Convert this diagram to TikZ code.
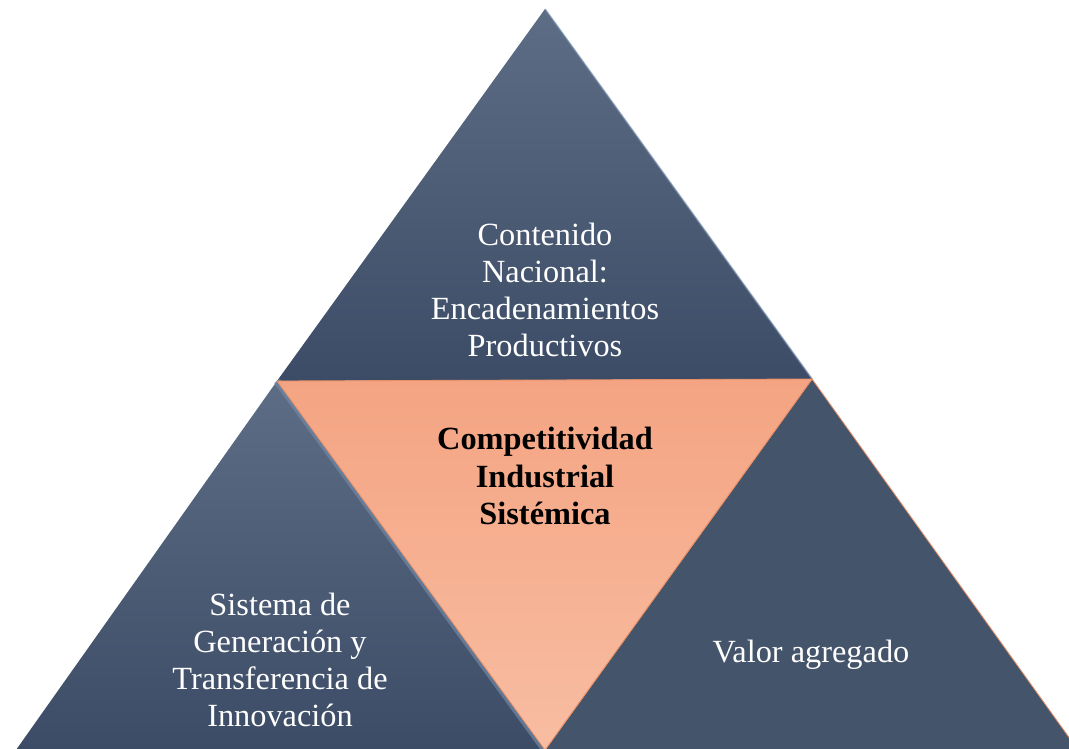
\documentclass[tikz,border=0pt]{standalone}
\usepackage{fontspec}
\setmainfont{Liberation Serif}
\usetikzlibrary{positioning}

\definecolor{navytop}{HTML}{5C6D85}
\definecolor{navybot}{HTML}{3D4C66}
\definecolor{navymid}{HTML}{44546A}
\definecolor{navyglow}{HTML}{7088A6}
\definecolor{salmontop}{HTML}{F4A482}
\definecolor{salmonbot}{HTML}{F8BDA2}
\definecolor{salmonedge}{HTML}{E58F66}

\begin{document}
\begin{tikzpicture}[x=0.025cm, y=-0.025cm,
    lbl/.style={align=center, text=white, font=\fontsize{23}{26.5}\selectfont},
    core/.style={align=center, text=black, font=\fontsize{23}{26.5}\selectfont\bfseries}]
  \useasboundingbox (0,0) rectangle (1069,748);
  % corners of the pyramid
  \coordinate (apex) at (545,9);
  \coordinate (jl) at (277,381);
  \coordinate (jr) at (812,379);
  \coordinate (bl) at (16,750);
  \coordinate (bm) at (545,750);
  \coordinate (br) at (1078,750);
  % three blue triangles
  \shade[top color=navytop, bottom color=navybot] (apex) -- (jr) -- (jl) -- cycle;
  \draw[navyglow, line width=1.2pt, opacity=0.6] (apex) -- (jr);
  \shade[top color=navytop, bottom color=navybot] (jl) -- (bm) -- (bl) -- cycle;
  \draw[navyglow, line width=5pt, opacity=0.7] (jl) -- (bm);
  \fill[navymid, draw=salmonedge, line width=0.6pt] (jr) -- (br) -- (bm) -- cycle;
  % centre
  \shade[top color=salmontop, bottom color=salmonbot, draw=salmonedge, line width=0.6pt]
    (jl) -- (jr) -- (bm) -- cycle;
  % texts
  \node[lbl] (nacional) at (545,290) {Contenido\\Nacional:\\Encadenamientos\\Productivos};
  \node[core] (competitividad) at (545,476) {Competitividad\\Industrial\\Sistémica};
  \node[lbl] (innovacion) at (280,660) {Sistema de\\Generación y\\Transferencia de\\Innovación};
  \node[lbl] (valor) at (811,655) {Valor agregado};
\end{tikzpicture}
\end{document}
